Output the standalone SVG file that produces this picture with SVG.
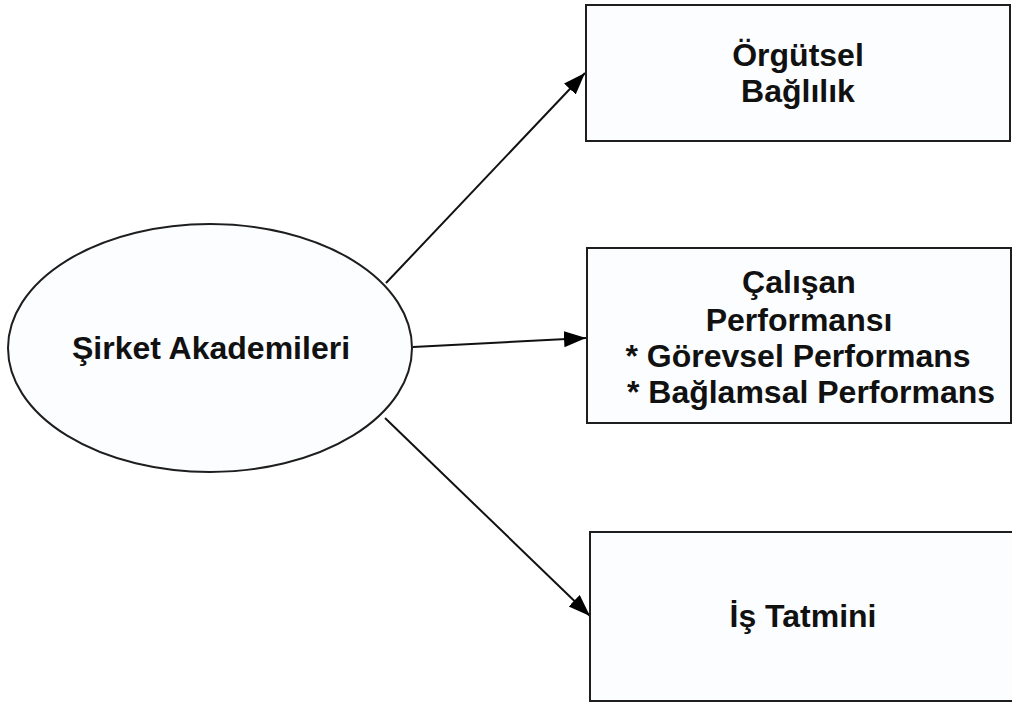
<svg xmlns="http://www.w3.org/2000/svg" width="1012" height="702" viewBox="0 0 1012 702">
<style>
.n{fill:#fcfdfe;stroke:#1e1e1e;stroke-width:2}
.t{font-family:"Liberation Sans",Arial,sans-serif;font-weight:bold;font-size:32px;fill:#111;text-anchor:middle}
.c{stroke:#111;stroke-width:2;fill:none;marker-end:url(#ah)}
</style>
<defs>
<marker id="ah" markerUnits="userSpaceOnUse" markerWidth="24" markerHeight="18" refX="22" refY="8" orient="auto">
<path d="M0,0 L22,8 L0,16 z" fill="#000"/>
</marker>
</defs>
<rect width="1012" height="702" fill="#fff"/>
<g id="connectors">
<line class="c" x1="386" y1="283" x2="585" y2="73"/>
<line class="c" x1="413" y1="347" x2="586" y2="338"/>
<line class="c" x1="385" y1="418" x2="590" y2="616"/>
</g>
<g id="node-sirket">
<ellipse class="n" cx="210" cy="348" rx="202" ry="124"/>
<text class="t" x="211" y="359">Şirket Akademileri</text>
</g>
<g id="node-orgutsel">
<rect class="n" x="586" y="5" width="424" height="136"/>
<text class="t" x="798" y="66">Örgütsel</text>
<text class="t" x="798" y="102">Bağlılık</text>
</g>
<g id="node-calisan">
<rect class="n" x="587" y="248" width="424" height="175"/>
<text class="t" x="799" y="293">Çalışan</text>
<text class="t" x="799" y="331">Performansı</text>
<text class="t" x="798" y="367">* Görevsel Performans</text>
<text class="t" x="811" y="403">* Bağlamsal Performans</text>
</g>
<g id="node-is">
<rect class="n" x="590" y="532" width="430" height="169"/>
<text class="t" x="803" y="627">İş Tatmini</text>
</g>
</svg>
